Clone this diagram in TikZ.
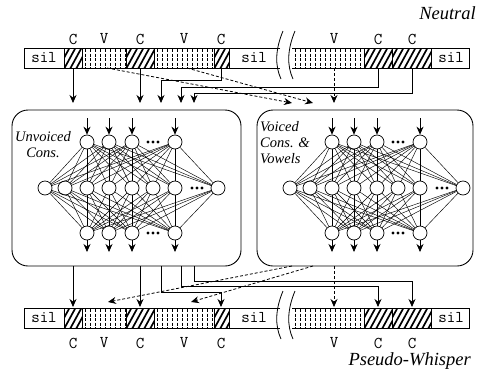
\documentclass[tikz,border=0pt]{standalone}
\usepackage{fontspec}
\setmainfont{Liberation Serif}
\usetikzlibrary{arrows.meta}

\newcommand\hseg[3]{%
  \begin{scope}
    \clip (#1,#3) rectangle (#2,#3+20);
    \foreach \k in {-24,-18,...,60} \draw[line width=1.7pt] (#1+\k,#3+21) -- (#1+\k+12,#3-1);
  \end{scope}
  \draw[barline] (#1,#3) rectangle (#2,#3+20);}

\newcommand\vseg[3]{%
  \begin{scope}
    \clip (#1,#3) rectangle (#2,#3+20);
    \foreach \k in {3,8,...,80} \draw[line width=0.5pt, dash pattern=on 3pt off 1.5pt] (#1+\k,#3+1) -- (#1+\k,#3+20);
  \end{scope}}

\newcommand\drawbar[2]{%
  \draw[barline] (24,#1) rectangle (64,#1+20);
  \node[lab] (#2s1) at (44,#1+10) {sil};
  \hseg{64}{82}{#1}
  \vseg{82}{126}{#1}
  \draw[barline] (82,#1) rectangle (126,#1+20);
  \hseg{126}{154}{#1}
  \vseg{154}{214}{#1}
  \draw[barline] (154,#1) rectangle (214,#1+20);
  \hseg{214}{229}{#1}
  \draw[barline] (280,#1) -- (229,#1) -- (229,#1+20) -- (280,#1+20);
  \node[lab] (#2s2) at (254,#1+10) {sil};
  \vseg{292}{364}{#1}
  \draw[barline] (292,#1) -- (364,#1) -- (364,#1+20) -- (292,#1+20);
  \hseg{364}{392}{#1}
  \hseg{392}{431}{#1}
  \draw[barline] (431,#1) rectangle (469,#1+20);
  \node[lab] (#2s3) at (451,#1+10) {sil};
  \draw[line width=0.8pt] (283,#1-17) .. controls (275,#1+2) and (275,#1+18) .. (281,#1+31);
  \draw[line width=0.8pt] (295,#1-17) .. controls (287,#1+2) and (287,#1+18) .. (293,#1+31);
}

\newcommand\drawnet[2]{%
  \foreach \n/\x in {1/87,2/109,3/132,4/175} {
    \node[neuron] (#1i\n) at (\x+#2,142) {};
    \node[neuron] (#1o\n) at (\x+#2,233) {};
    \coordinate (#1a\n) at (\x+#2,118);
    \coordinate (#1b\n) at (\x+#2,252);
  }
  \foreach \n/\x in {1/45,2/65,3/87,4/109,5/132,6/153,7/175,8/218}
    \node[neuron] (#1h\n) at (\x+#2,188) {};
  \foreach \i in {1,...,4} \foreach \h in {1,...,8} {
    \draw[nedge] (#1i\i) -- (#1h\h);
    \draw[nedge] (#1h\h) -- (#1o\i);
  }
  \foreach \i in {1,...,4} {
    \draw[conn] (#1a\i) -- (#1i\i);
    \draw[conn] (#1o\i) -- (#1b\i);
  }
  \foreach \d in {-5,0,5} {
    \fill (153+\d+#2,142) circle (1.6);
    \fill (153+\d+#2,233) circle (1.6);
    \fill (197+\d+#2,188) circle (1.6);
  }
}

\begin{document}
\begin{tikzpicture}[x=1pt,y=-1pt,
  barline/.style={line width=0.9pt},
  conn/.style={line width=0.8pt,-{Stealth[length=8pt,width=7pt]}},
  dconn/.style={conn,dash pattern=on 3pt off 2pt},
  neuron/.style={circle,draw,fill=white,minimum size=14pt,inner sep=0pt,line width=0.7pt},
  nedge/.style={line width=0.45pt},
  lab/.style={font=\ttfamily\fontsize{16.5}{16.5}\selectfont,inner sep=0pt},
  captext/.style={font=\itshape\fontsize{18.5}{18.5}\selectfont,inner sep=0pt},
  boxlab/.style={font=\itshape\fontsize{14.5}{16}\selectfont,inner sep=0pt},
  netbox/.style={draw,line width=0.9pt,rounded corners=16pt}]
\useasboundingbox (0,0) rectangle (479,378);

% captions
\node[captext,anchor=east] (neutral) at (476,13) {Neutral};
\node[captext,anchor=east] (whisper) at (471,361) {Pseudo-Whisper};

% bars
\drawbar{48}{t}
\drawbar{308}{b}

% phone labels
\foreach \n/\x/\l in {1/73/C,2/104/V,3/140/C,4/184/V,5/221/C,6/334/V,7/378/C,8/412/C} {
  \node[lab] (tl\n) at (\x,39) {\l};
  \node[lab] (bl\n) at (\x,343) {\l};
}

% network boxes
\draw[netbox] (12,110) rectangle (241,266);
\draw[netbox] (257,110) rectangle (473,266);
\node[boxlab,align=center] (ulab) at (43,145) {Unvoiced\\Cons.};
\node[boxlab,align=left,anchor=west] (vlab) at (260,143) {Voiced\\Cons. \&\\Vowels};

\drawnet{L}{0}
\drawnet{R}{245}

% connector endpoints, top
\coordinate (tc1) at (73,68);   \coordinate (ec1) at (73,103);
\coordinate (tc2) at (140,68);  \coordinate (ec2) at (140,103);
\coordinate (tc3) at (221,68);  \coordinate (ec3) at (161,103);
\coordinate (tc4) at (378,68);  \coordinate (ec4) at (181,103);
\coordinate (tc5) at (412,68);  \coordinate (ec5) at (194,103);
\coordinate (tv1) at (107,68);  \coordinate (ev1) at (292,103);
\coordinate (tv2) at (187,68);  \coordinate (ev2) at (313,103);
\coordinate (tv3) at (334,68);  \coordinate (ev3) at (334,103);

\draw[conn] (tc1) -- (ec1);
\draw[conn] (tc2) -- (ec2);
\draw[conn] (tc3) -- (221,80) -| (ec3);
\draw[conn] (tc4) -- (378,87) -| (ec4);
\draw[conn] (tc5) -- (412,93) -| (ec5);
\draw[dconn] (tv1) -- (ev1);
\draw[dconn] (tv2) -- (ev2);
\draw[dconn] (tv3) -- (ev3);

% connector endpoints, bottom
\coordinate (sc1) at (73,266);  \coordinate (fc1) at (73,307);
\coordinate (sc2) at (140,266); \coordinate (fc2) at (140,307);
\coordinate (sc3) at (161,266); \coordinate (fc3) at (221,307);
\coordinate (sc4) at (181,266); \coordinate (fc4) at (378,307);
\coordinate (sc5) at (194,266); \coordinate (fc5) at (412,307);
\coordinate (sv1) at (292,266); \coordinate (fv1) at (108,302);
\coordinate (sv2) at (313,266); \coordinate (fv2) at (191,302);
\coordinate (sv3) at (334,266); \coordinate (fv3) at (334,307);

\draw[conn] (sc1) -- (fc1);
\draw[conn] (sc2) -- (fc2);
\draw[conn] (sc3) -- (161,292) -| (fc3);
\draw[conn] (sc4) -- (181,286) -| (fc4);
\draw[conn] (sc5) -- (194,281) -| (fc5);
\draw[dconn] (sv1) -- (fv1);
\draw[dconn] (sv2) -- (fv2);
\draw[dconn] (sv3) -- (fv3);
\end{tikzpicture}
\end{document}
